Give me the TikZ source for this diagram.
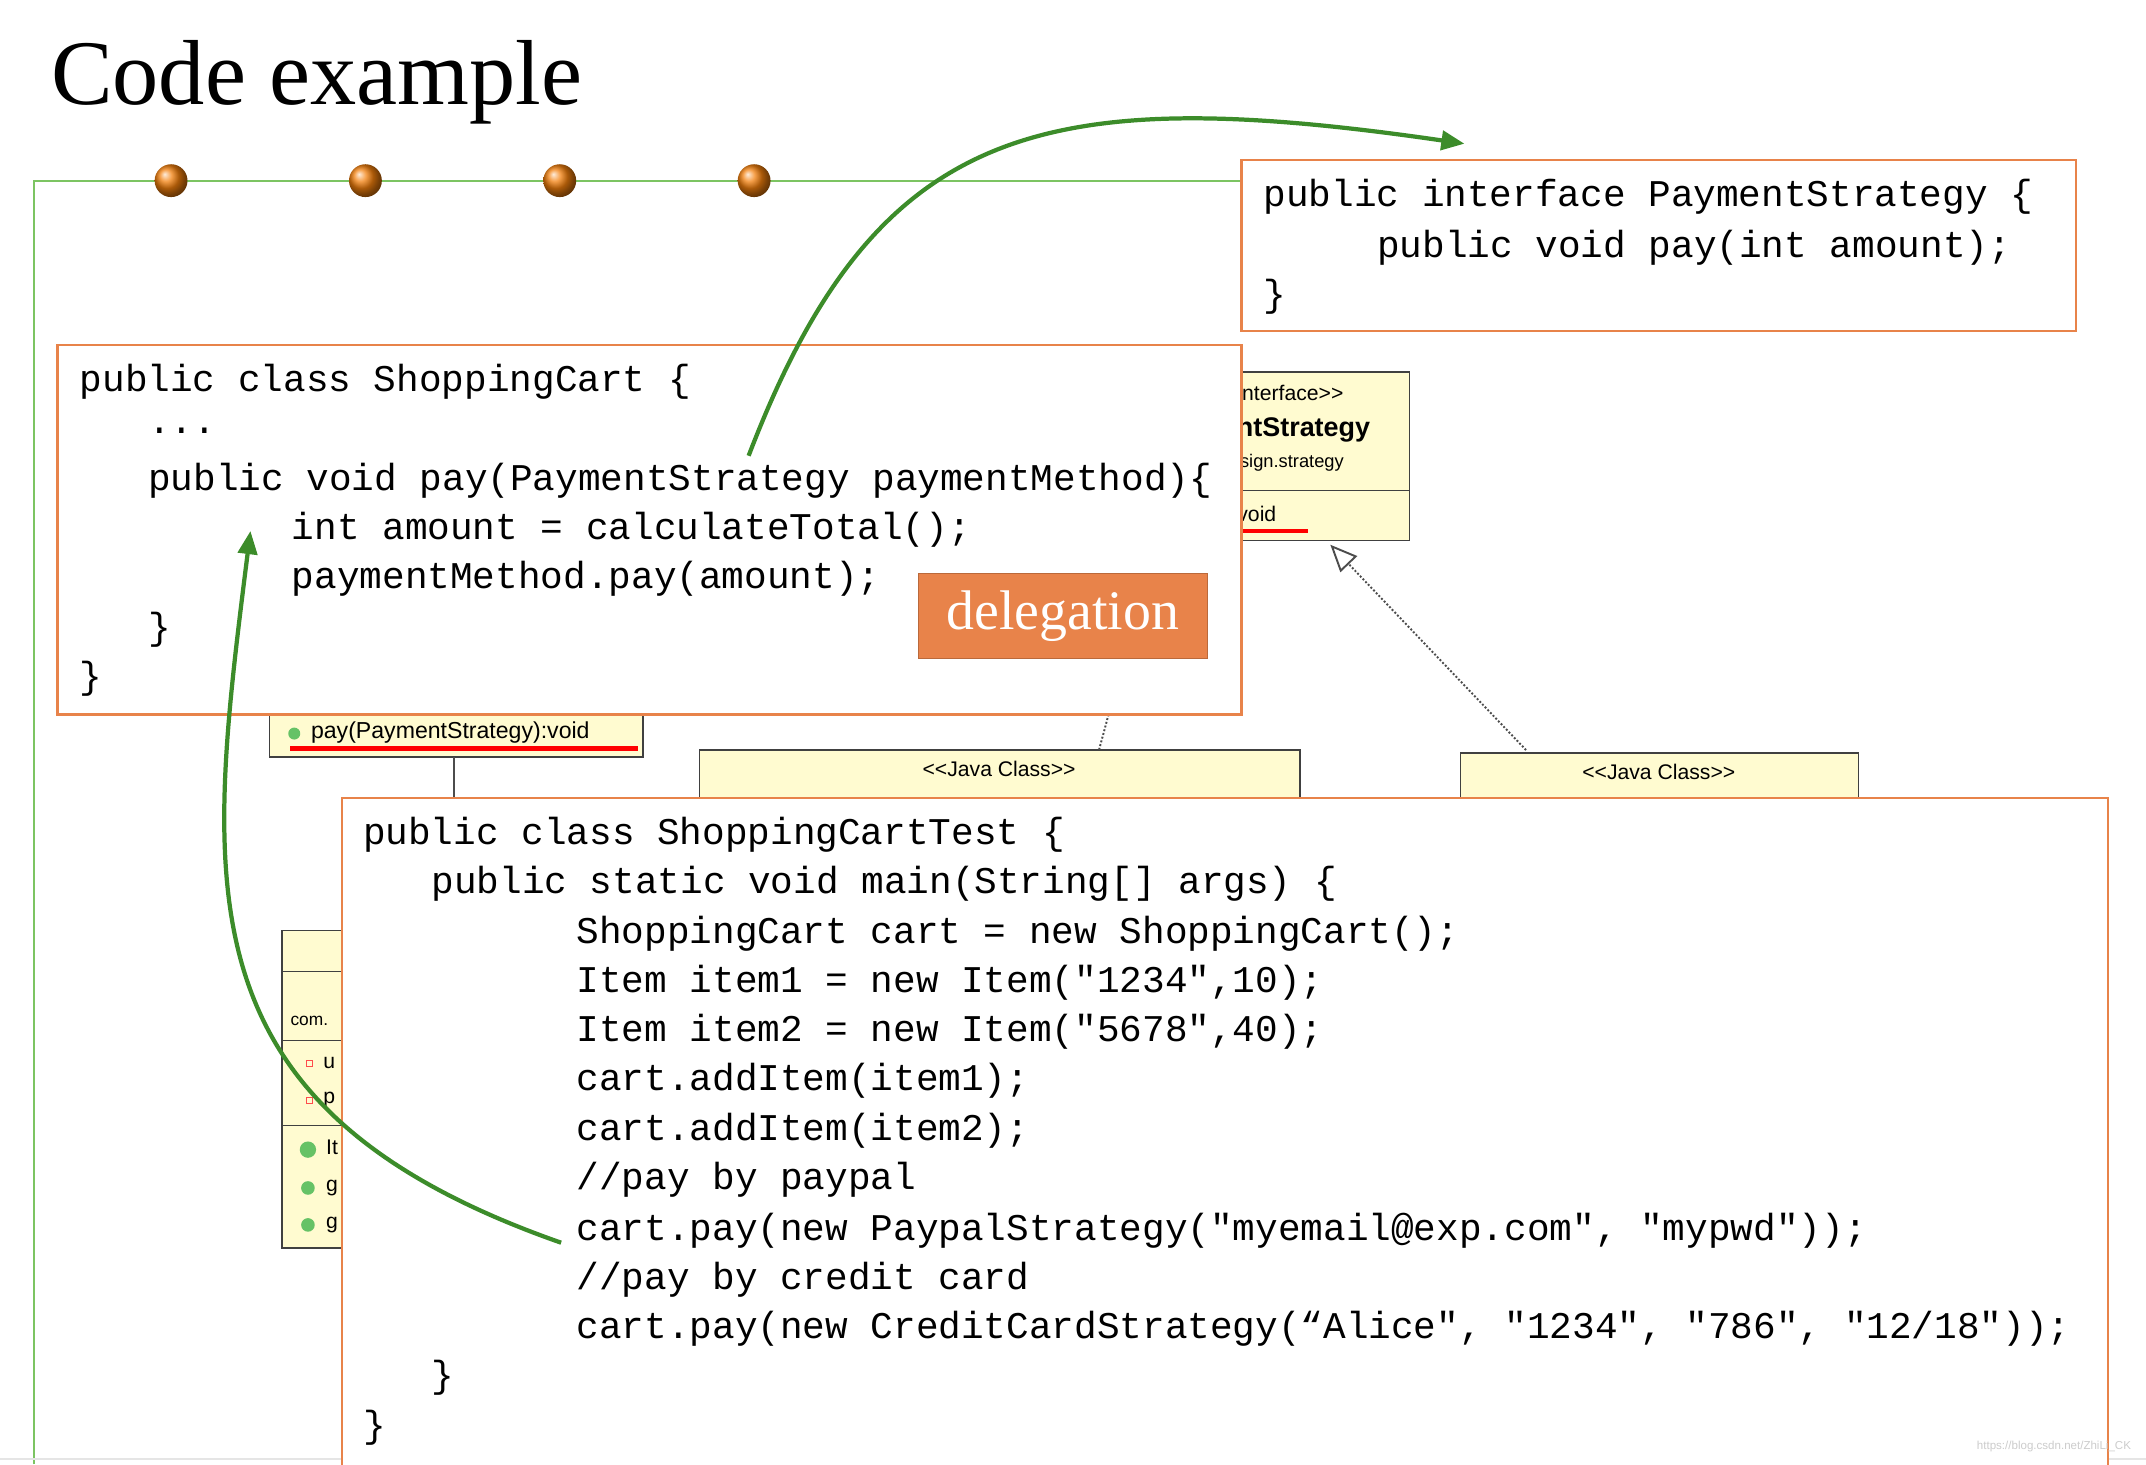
\documentclass[tikz,border=0pt]{standalone}
\usepackage{fontspec}
\newfontfamily\codef{Liberation Mono}
\newfontfamily\umlf{Liberation Sans}
\newfontfamily\serf{Liberation Serif}
\usetikzlibrary{arrows.meta}
\definecolor{org}{HTML}{E8834A}
\definecolor{grn}{HTML}{3C8C2A}
\definecolor{lgrn}{HTML}{7CC462}
\definecolor{uml}{HTML}{FFFBD0}
\begin{document}
\begin{tikzpicture}[x=0.025cm,y=-0.025cm,
  codebox/.style={draw=org,line width=1.2pt,fill=white},
  code/.style={anchor=west,inner sep=0,font=\codef\fontsize{19.6}{22}\selectfont},
  umlbox/.style={draw=black!75,line width=0.8pt,fill=uml},
  umlt/.style={anchor=west,inner sep=0,font=\umlf\fontsize{11}{13}\selectfont},
  flow/.style={draw=grn,line width=2.2pt,-{Triangle[length=12pt,width=10pt]}},
  ball/.style={circle,inner sep=0,minimum size=0.6cm,shading=ball,ball color=orange!80!brown}]
\useasboundingbox (0,0) rectangle (1568,1070);
% green frame
\draw[lgrn,line width=1pt] (25,1070) -- (25,132) -- (907,132);
\draw[black!10,line width=1pt] (0,1066) -- (1568,1066);
\node[anchor=west,inner sep=0,font=\serf\fontsize{48}{52}\selectfont] (title) at (37,60) {Code example};
\foreach \x/\n in {125/b1,267/b2,409/b3,551/b4} \node[ball] (\n) at (\x,132) {};
% UML background (visible part only)
\begin{scope}
\clip (908,260) rectangle (1040,400);
\draw[umlbox] (860,272) rectangle (1030,395);
\draw[black!75] (860,358) -- (1030,358);
\node[umlt] (u1) at (848,287) {<<Java Interface>>};
\node[umlt,font=\umlf\bfseries\fontsize{14}{16}\selectfont] (u2) at (840,314) {PaymentStrategy};
\node[umlt,font=\umlf\fontsize{9.5}{11}\selectfont] (u3) at (862,338) {com.design.strategy};
\node[umlt] (u4) at (860,377) {~pay():void};
\draw[red,line width=2.5pt] (900,388) -- (956,388);
\end{scope}
\draw[umlbox] (197,522) rectangle (470,553);
\node[circle,fill=green!60!black!60,inner sep=2.2pt] (d0) at (215,536) {};
\node[umlt,font=\umlf\fontsize{12}{14}\selectfont] (u5) at (227,535) {pay(PaymentStrategy):void};
\draw[red,line width=2.5pt] (212,547) -- (466,547);
\draw[umlbox] (511,548) rectangle (950,600);
\node[umlt,anchor=center] (u6) at (730,562) {<<Java Class>>};
\draw[umlbox] (1067,550) rectangle (1358,600);
\node[umlt,anchor=center] (u7) at (1212,564) {<<Java Class>>};
\coordinate (t1) at (1115,548); \coordinate (t2) at (972,398);
\draw[densely dotted,black!70,line width=1pt,-{Triangle[open,length=14pt,width=12pt]}] (t1) -- (t2);
\coordinate (p1) at (810,522); \coordinate (p2) at (803,548);
\draw[densely dotted,black!70,line width=1pt] (p1) -- (p2);
\coordinate (q1) at (332,553); \coordinate (q2) at (332,600);
\draw[black!70,line width=1pt] (q1) -- (q2);
\draw[umlbox] (206,680) rectangle (260,912);
\draw[black!75] (206,710) -- (260,710) (206,760) -- (260,760) (206,822) -- (260,822);
\node[umlt,font=\umlf\fontsize{9}{11}\selectfont] (c1) at (212,746) {com.};
\node[draw=red!70,inner sep=1.6pt] (s1) at (226,777) {}; \node[umlt] (c2) at (236,777) {u};
\node[draw=red!70,inner sep=1.6pt] (s2) at (226,804) {}; \node[umlt] (c3) at (236,804) {p};
\node[circle,fill=green!60!black!60,inner sep=3pt] (g0) at (225,840) {}; \node[umlt] (c4) at (238,838) {It};
\node[circle,fill=green!60!black!60,inner sep=2.5pt] (g1) at (225,868) {}; \node[umlt] (c5) at (238,868) {g};
\node[circle,fill=green!60!black!60,inner sep=2.5pt] (g2) at (225,895) {}; \node[umlt] (c6) at (238,895) {g};
% interface box
\draw[codebox] (907,117) rectangle (1517,242);
\node[code] (i1) at (923,144) {public interface PaymentStrategy \{};
\node[code] (i2) at (1006,181) {public void pay(int amount);};
\node[code] (i3) at (923,217) {\}};
% ShoppingCart box
\draw[codebox] (42,252) rectangle (907,522);
\node[code] (s1l) at (58,279) {public class ShoppingCart \{};
\node[code] (s2l) at (108,315) {...};
\node[code] (s3l) at (108,351) {public void pay(PaymentStrategy paymentMethod)\{};
\node[code] (s4l) at (213,387) {int amount = calculateTotal();};
\node[code] (s5l) at (213,423) {paymentMethod.pay(amount);};
\node[code] (s6l) at (108,460) {\}};
\node[code] (s7l) at (58,496) {\}};
\node[fill=org,draw=org!80!black,minimum width=5.27cm,minimum height=1.55cm,text=white,font=\serf\fontsize{29}{31}\selectfont] (del) at (776.5,450) {delegation};
% Test box
\draw[codebox] (250,1080) -- (250,583) -- (1540,583) -- (1540,1080);
\foreach \y/\x/\t [count=\i] in {
 610/265/{public class ShoppingCartTest \{},
 646/315/{public static void main(String[] args) \{},
 682/421/{ShoppingCart cart = new ShoppingCart();},
 718/421/{Item item1 = new Item("1234",10);},
 754/421/{Item item2 = new Item("5678",40);},
 790/421/{cart.addItem(item1);},
 826/421/{cart.addItem(item2);},
 862/421/{//pay by paypal},
 899/421/{cart.pay(new PaypalStrategy("myemail@exp.com", "mypwd"));},
 935/421/{//pay by credit card},
 971/421/{cart.pay(new CreditCardStrategy(“Alice", "1234", "786", "12/18"));},
 1007/315/{\}},
 1043/265/{\}}}
 \node[code] (t\i) at (\x,\y) {\t};
% arrows
\coordinate (a1) at (547,333); \coordinate (a2) at (1070,105);
\draw[flow] (a1) .. controls (640,90) and (760,60) .. (a2);
\coordinate (b1) at (410,908); \coordinate (b2) at (183,388);
\draw[flow] (b1) .. controls (130,810) and (150,650) .. (b2);
\node[anchor=east,font=\umlf\fontsize{6}{7}\selectfont,text=black!20] (wm) at (1562,1057) {https://blog.csdn.net/ZhiLi\_CK};
\end{tikzpicture}
\end{document}
